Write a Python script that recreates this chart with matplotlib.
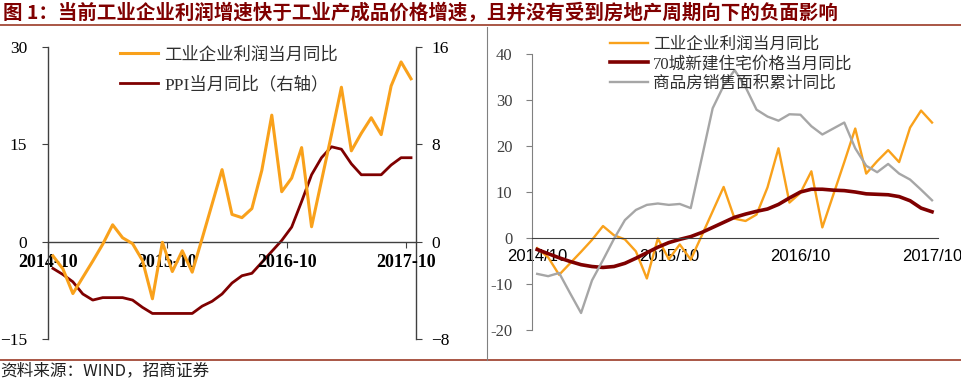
import matplotlib
matplotlib.use('Agg')
import matplotlib.pyplot as plt
from matplotlib.lines import Line2D

plt.rcParams['font.family'] = ['Liberation Serif', 'Noto Sans CJK SC', 'DejaVu Sans']

# monthly data, 2014-10 .. 2017-10
months = list(range(37))
profit_yoy = [-2.2, -4.2, -8.0, -5.5, -3.0, -0.4, 2.6, 0.6, -0.3, -2.9,
              -8.8, -0.1, -4.6, -1.4, -4.7, 0.5, 5.8, 11.1, 4.2, 3.7,
              5.1, 11.0, 19.5, 7.7, 9.8, 14.5, 2.3, 9.4, 16.5, 23.8,
              14.0, 16.7, 19.1, 16.5, 24.0, 27.7, 25.1]
ppi_yoy = [-2.2, -2.7, -3.3, -4.3, -4.8, -4.6, -4.6, -4.6, -4.8, -5.4,
           -5.9, -5.9, -5.9, -5.9, -5.9, -5.3, -4.9, -4.3, -3.4, -2.8,
           -2.6, -1.7, -0.8, 0.1, 1.2, 3.3, 5.5, 6.9, 7.8, 7.6,
           6.4, 5.5, 5.5, 5.5, 6.3, 6.9, 6.9]
house_price_yoy = [-2.5, -3.4, -4.3, -5.1, -5.8, -6.2, -6.4, -6.2, -5.5, -4.4,
                   -3.2, -2.0, -1.0, -0.3, 0.3, 1.2, 2.3, 3.4, 4.5, 5.2,
                   5.8, 6.3, 7.3, 8.7, 10.0, 10.6, 10.6, 10.4, 10.3, 10.0,
                   9.6, 9.5, 9.4, 9.0, 8.1, 6.5, 5.7]
sales_area_yoy = [-7.8, -8.3, -7.6, -12.0, -16.3, -9.2, -4.8, -0.2, 3.9, 6.1,
                  7.2, 7.5, 7.2, 7.4, 6.5, 17.3, 28.2, 33.1, 36.5, 32.8,
                  27.9, 26.4, 25.5, 26.9, 26.8, 24.3, 22.5, 23.8, 25.1, 19.5,
                  15.7, 14.3, 16.1, 14.0, 12.7, 10.5, 8.2]

left_xticks = [-0.5, 11.5, 23.5, 35.5]
left_xlabels = ['2014-10', '2015-10', '2016-10', '2017-10']
right_xticks = [0, 12, 24, 36]
right_xlabels = ['2014/10', '2015/10', '2016/10', '2017/10']

ORANGE = '#F9A11B'
DARKRED = '#7F0000'
GRAY = '#A6A6A6'
CJK = ['Noto Sans CJK SC', 'DejaVu Sans']

fig = plt.figure(figsize=(9.62, 3.8), dpi=100)

# title and rules
fig.text(0.003, 0.967, '图 1：当前工业企业利润增速快于工业产成品价格增速，且并没有受到房地产周期向下的负面影响',
         family=CJK, fontsize=14, fontweight='bold', color='#800000', va='center', ha='left')
fig.add_artist(Line2D([0, 1], [1 - 25 / 380, 1 - 25 / 380], color='#9B3A26', lw=1.2))
fig.add_artist(Line2D([0, 1], [1 - 360 / 380, 1 - 360 / 380], color='#9B3A26', lw=1.2))
fig.add_artist(Line2D([487 / 962, 487 / 962], [1 - 27 / 380, 1 - 360 / 380], color='#808080', lw=0.8))
fig.text(0.0, 1 - 371 / 380, '资料来源：WIND，招商证券', family=CJK, fontsize=12,
         color='#202020', va='center', ha='left')

# ---- left panel ----
ax = fig.add_axes([48 / 962, 1 - 339 / 380, 368 / 962, 292 / 380])
ax2 = ax.twinx()
ax.plot(months, profit_yoy, color=ORANGE, lw=2.2, zorder=3)
ax2.plot(months, ppi_yoy, color=DARKRED, lw=2.0)
ax.set_zorder(ax2.get_zorder() + 1)
ax.patch.set_visible(False)

ax.set_xlim(-0.5, 36.5)
ax.set_ylim(-15, 30)
ax2.set_ylim(-8, 16)
ax.set_yticks([-15, 0, 15, 30])
ax2.set_yticks([-8, 0, 8, 16])
ax.set_xticks(left_xticks)
ax.set_xticklabels(left_xlabels)

for a in (ax, ax2):
    a.spines['top'].set_visible(False)
    a.spines['bottom'].set_position(('data', 0))
    for s in a.spines.values():
        s.set_color('#404040')
        s.set_linewidth(1.0)
ax.spines['right'].set_visible(False)
ax2.spines['left'].set_visible(False)
ax2.spines['bottom'].set_visible(False)

ax.tick_params(axis='y', direction='out', length=4, pad=11, labelsize=12.5, colors='#404040', labelcolor='black')
ax2.tick_params(axis='y', direction='out', length=4, pad=7, labelsize=12.5, colors='#404040', labelcolor='black')
ax.tick_params(axis='x', direction='out', length=4, pad=5, labelsize=13, colors='#404040', labelcolor='black')
for t in ax.get_xticklabels():
    t.set_fontweight('bold')

handles = [Line2D([], [], color=ORANGE, lw=2.2), Line2D([], [], color=DARKRED, lw=2.0)]
leg = ax.legend(handles, ['工业企业利润当月同比', 'PPI当月同比（右轴）'],
                loc='upper left', bbox_to_anchor=(120 / 962, 1 - 47 / 380),
                bbox_transform=fig.transFigure, frameon=False, fontsize=12.5,
                handlelength=2.2, handletextpad=0.35, labelspacing=0.75,
                borderpad=0, borderaxespad=0)
for t in leg.get_texts():
    t.set_color('#303030')

# ---- right panel ----
bx = fig.add_axes([531.7 / 962, 1 - 330 / 380, 405.8 / 962, 276 / 380])
bx.plot(months, profit_yoy, color=ORANGE, lw=1.7, label='工业企业利润当月同比')
bx.plot(months, house_price_yoy, color=DARKRED, lw=2.6, label='70城新建住宅价格当月同比')
bx.plot(months, sales_area_yoy, color=GRAY, lw=1.7, label='商品房销售面积累计同比')
bx.set_xlim(-0.5, 36.5)
bx.set_ylim(-20, 40)
bx.set_yticks([-20, -10, 0, 10, 20, 30, 40])
bx.set_yticklabels(['-20', '-10', '0', '10', '20', '30', '40'])
bx.set_xticks(right_xticks)
bx.set_xticklabels(right_xlabels)
bx.spines['top'].set_visible(False)
bx.spines['right'].set_visible(False)
bx.spines['bottom'].set_position(('data', 0))
bx.spines['bottom'].set_color('#404040')
bx.spines['left'].set_color('#808080')
bx.tick_params(axis='y', direction='out', length=4, pad=10, labelsize=12, colors='#808080', labelcolor='#404040')
bx.tick_params(axis='x', length=0, pad=8, labelsize=12, labelcolor='black')
for t in bx.get_xticklabels():
    t.set_fontfamily(['Liberation Sans', 'DejaVu Sans'])

leg2 = bx.legend(loc='upper left', bbox_to_anchor=(610 / 962, 1 - 37 / 380),
                 bbox_transform=fig.transFigure, frameon=False, fontsize=12,
                 handlelength=2.3, handletextpad=0.3, labelspacing=0.2,
                 borderpad=0, borderaxespad=0)
for t in leg2.get_texts():
    t.set_color('#303030')

fig.savefig('out.png', dpi=100)
